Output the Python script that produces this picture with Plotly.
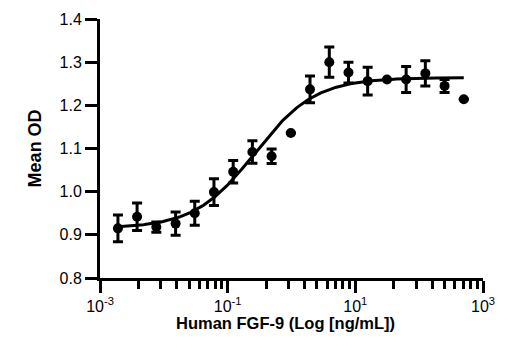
import numpy as np
import plotly.graph_objects as go

# FGF-9 concentration (ng/mL), 2-fold serial dilution
conc = [0.00191, 0.00381, 0.00763, 0.0153, 0.0305, 0.061, 0.122, 0.244, 0.488,
        0.977, 1.95, 3.91, 7.81, 15.6, 31.3, 62.5, 125, 250, 500]
# Mean optical density
mean_od = [0.915, 0.942, 0.918, 0.926, 0.950, 0.999, 1.046, 1.092, 1.082, 1.136,
           1.237, 1.300, 1.276, 1.256, 1.260, 1.260, 1.274, 1.245, 1.214]
# Standard deviation (None = not shown)
sd = [0.031, 0.032, 0.012, 0.027, 0.028, 0.031, 0.026, 0.026, 0.017, None,
      0.031, 0.035, 0.024, 0.032, None, 0.030, 0.029, 0.015, None]

# Four-parameter logistic fit
fit_bottom = 0.915
fit_top = 1.264
fit_log_ec50 = -0.574
fit_hill = 0.92

x_tick_vals = [1e-3, 1e-1, 1e1, 1e3]
x_tick_text = ["10<sup>-3</sup>", "10<sup>-1</sup>", "10<sup>1</sup>", "10<sup>3</sup>"]
y_tick_vals = [0.8, 0.9, 1.0, 1.1, 1.2, 1.3, 1.4]

FONT = "Liberation Sans, Arial, sans-serif"

log_x = np.linspace(np.log10(conc[0]), np.log10(conc[-1]), 300)
fit_y = fit_bottom + (fit_top - fit_bottom) / (1 + 10 ** ((fit_log_ec50 - log_x) * fit_hill))

# minor ticks: 2..9 steps within each two-decade interval
minor_vals = [10.0 ** d * k ** 2 for d in (-3, -1, 1) for k in range(2, 10)]

fig = go.Figure()
fig.add_trace(go.Scatter(
    x=10 ** log_x, y=fit_y, mode="lines",
    line=dict(color="black", width=3), hoverinfo="skip", showlegend=False,
))
fig.add_trace(go.Scatter(
    x=conc, y=mean_od, mode="markers",
    marker=dict(color="black", size=10),
    error_y=dict(type="data", array=sd, visible=True, color="black",
                 thickness=3, width=5),
    showlegend=False,
))

fig.update_layout(
    width=520, height=350,
    margin=dict(l=100, r=37, t=19, b=72, autoexpand=False),
    plot_bgcolor="white", paper_bgcolor="white",
    font=dict(family=FONT, color="black"),
    xaxis=dict(
        type="log", range=[-3, 3],
        tickmode="array", tickvals=x_tick_vals, ticktext=x_tick_text,
        ticks="outside", ticklen=12, tickwidth=3, tickcolor="black",
        showline=True, linewidth=3, linecolor="black",
        showgrid=False, zeroline=False,
        tickfont=dict(size=16, family=FONT),
        minor=dict(tickmode="array", tickvals=minor_vals, ticks="outside",
                   ticklen=8, tickwidth=3, tickcolor="black", showgrid=False),
    ),
    yaxis=dict(
        range=[0.8, 1.4],
        tickmode="array", tickvals=y_tick_vals, tickformat=".1f",
        ticks="outside", ticklen=12, tickwidth=3, tickcolor="black",
        showline=True, linewidth=3, linecolor="black",
        showgrid=False, zeroline=False,
        tickfont=dict(size=16, family=FONT),
    ),
    annotations=[
        dict(text="<b>Mean OD</b>", xref="paper", yref="paper",
             x=-0.17, y=0.5, xanchor="center", yanchor="middle",
             textangle=-90, showarrow=False, font=dict(size=18, family=FONT)),
        dict(text="<b>Human FGF-9 (Log [ng/mL])</b>", xref="paper", yref="paper",
             x=0.484, y=-0.175, xanchor="center", yanchor="middle",
             showarrow=False, font=dict(size=16.5, family=FONT)),
    ],
)

fig.write_html("out.html")
